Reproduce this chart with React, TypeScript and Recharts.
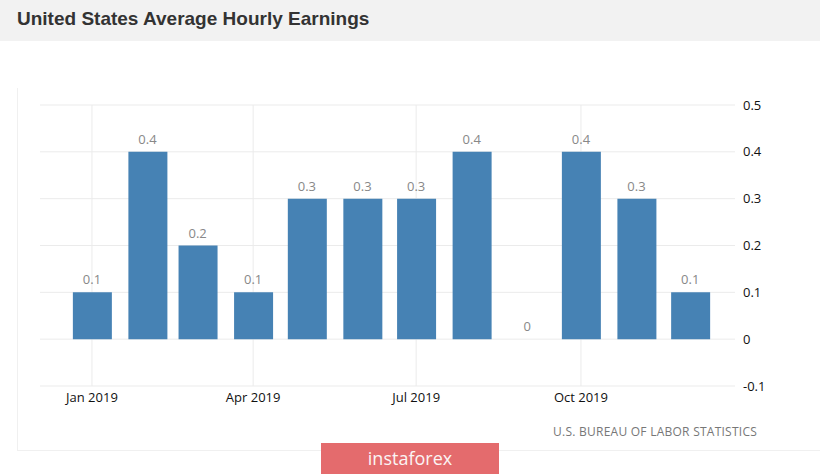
import React from "react";
import {
  ComposedChart,
  Bar,
  Line,
  XAxis,
  YAxis,
  CartesianGrid,
  ReferenceLine,
  LabelList,
} from "recharts";

// monthly change in average hourly earnings, 2019 (%)
const MONTHS = [
  "2019-01-01", "2019-02-01", "2019-03-01", "2019-04-01",
  "2019-05-01", "2019-06-01", "2019-07-01", "2019-08-01",
  "2019-09-01", "2019-10-01", "2019-11-01", "2019-12-01",
];
const VALUES = [0.1, 0.4, 0.2, 0.1, 0.3, 0.3, 0.3, 0.4, 0, 0.4, 0.3, 0.1];

const X_TICKS = ["2019-01-01", "2019-04-01", "2019-07-01", "2019-10-01"];
const X_TICK_LABELS = ["Jan 2019", "Apr 2019", "Jul 2019", "Oct 2019"];
const Y_TICKS = [-0.1, 0, 0.1, 0.2, 0.3, 0.4, 0.5];

const START = Date.UTC(2019, 0, 1);
const dayOf = (d: string) => (Date.parse(d + "T00:00:00Z") - START) / 86400000;

const data = MONTHS.map((m, i) => ({ day: dayOf(m), value: VALUES[i] }));
const xTicks = X_TICKS.map(dayOf);

const FONT = "'Open Sans', 'DejaVu Sans', sans-serif";
const W = 820;
const H = 474;
const MARGIN = { top: 105, right: 0, left: 40, bottom: 58 };

// same axes in both layers so the scales line up; labels only in the back one
const axes = (showTicks: boolean) => [
  <XAxis
    key="x"
    dataKey="day"
    type="number"
    domain={[-29, 359]}
    ticks={xTicks}
    tickFormatter={(v: number) => X_TICK_LABELS[xTicks.indexOf(v)] ?? ""}
    axisLine={false}
    tickLine={false}
    tickSize={0}
    tickMargin={7}
    height={30}
    tick={showTicks ? { fill: "#111", fontSize: 13, fontFamily: FONT } : false}
  />,
  <YAxis
    key="y"
    orientation="right"
    domain={[-0.1, 0.5]}
    ticks={Y_TICKS}
    axisLine={false}
    tickLine={false}
    tickSize={0}
    tickMargin={8}
    width={85}
    tick={
      showTicks
        ? { fill: "#111", fontSize: 13, fontFamily: FONT, textAnchor: "start" }
        : false
    }
  />,
];

const App: React.FC = () => {
  return (
    <div
      style={{
        position: "absolute",
        left: 0,
        top: 0,
        width: W,
        height: H,
        background: "#fff",
        overflow: "hidden",
        fontFamily: FONT,
      }}
    >
      <div
        style={{
          position: "absolute",
          left: 0,
          top: 0,
          width: W,
          height: 41,
          background: "#f2f2f2",
        }}
      />
      <div
        style={{
          position: "absolute",
          left: 17,
          top: 8,
          fontFamily: "'Liberation Sans', Arial, sans-serif",
          fontWeight: "bold",
          fontSize: 19,
          color: "#333",
        }}
      >
        United States Average Hourly Earnings
      </div>
      {/* panel edges */}
      <div
        style={{
          position: "absolute",
          left: 17,
          top: 88,
          width: 803,
          height: 362,
          borderLeft: "1px solid #f0f0f0",
          borderBottom: "1px solid #f0f0f0",
        }}
      />
      {/* back layer: grid + tick labels */}
      <div style={{ position: "absolute", left: 0, top: 0 }}>
        <ComposedChart width={W} height={H} data={data} margin={MARGIN}>
          <CartesianGrid stroke="#ebebeb" vertical={false} />
          {xTicks.map((t) => (
            <ReferenceLine key={t} x={t} stroke="#ebebeb" />
          ))}
          {axes(true)}
          <Line
            dataKey="value"
            stroke="none"
            dot={false}
            activeDot={false}
            isAnimationActive={false}
          />
        </ComposedChart>
      </div>
      {/* front layer: bars + value labels */}
      <div style={{ position: "absolute", left: 0, top: 0 }}>
        <ComposedChart width={W} height={H} data={data} margin={MARGIN}>
          {axes(false)}
          <Bar dataKey="value" fill="#4682b4" barSize={39} isAnimationActive={false} />
          {/* invisible series only used to place the value labels (incl. the 0) */}
          <Line
            dataKey="value"
            stroke="none"
            dot={false}
            activeDot={false}
            isAnimationActive={false}
          >
            <LabelList
              dataKey="value"
              position="top"
              offset={8}
              fill="#888"
              fontSize={13}
              fontFamily={FONT}
            />
          </Line>
        </ComposedChart>
      </div>
      <div
        style={{
          position: "absolute",
          left: 553,
          top: 423,
          fontSize: 12,
          letterSpacing: 0.25,
          color: "#777",
          whiteSpace: "nowrap",
        }}
      >
        U.S. BUREAU OF LABOR STATISTICS
      </div>
      <div
        style={{
          position: "absolute",
          left: 321,
          top: 443,
          width: 178,
          height: 31,
          background: "#e46b6d",
          color: "#fbf4f4",
          fontSize: 18,
          lineHeight: "31px",
          textAlign: "center",
          fontFamily: FONT,
        }}
      >
        instaforex
      </div>
    </div>
  );
};

export default App;
